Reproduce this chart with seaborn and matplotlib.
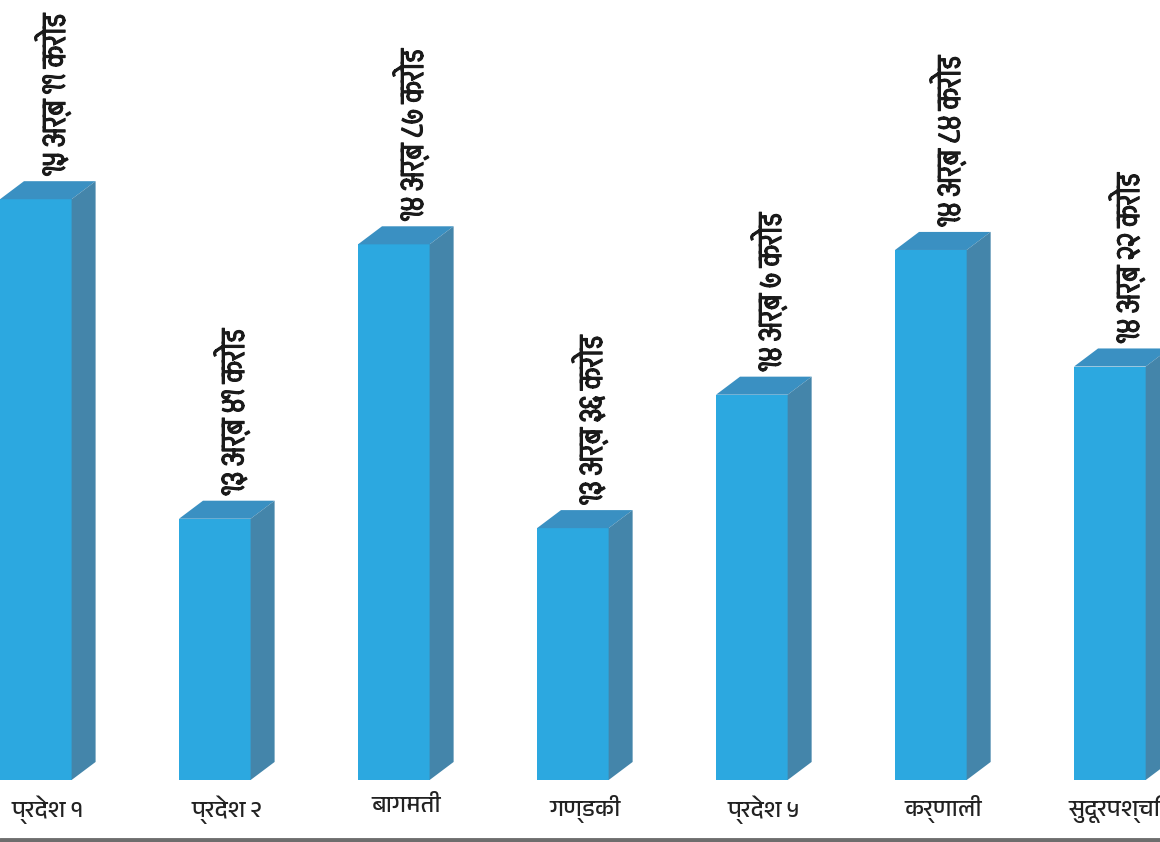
import numpy as np
import matplotlib
matplotlib.use("Agg")
import matplotlib.pyplot as plt
import matplotlib.patheffects as pe
from matplotlib import font_manager
from matplotlib.ft2font import FT2Font
from matplotlib.patches import Polygon
import seaborn as sns

# data (in arba)
provinces = ["प्रदेश १", "प्रदेश २", "बागमती", "गण्डकी", "प्रदेश ५", "कर्णाली", "सुदूरपश्चिम"]
budget = [15.11, 13.41, 14.87, 13.36, 14.07, 14.84, 14.22]
value_labels = ["१५ अर्ब ११ करोड", "१३ अर्ब ४१ करोड", "१४ अर्ब ८७ करोड", "१३ अर्ब ३६ करोड",
                "१४ अर्ब ७ करोड", "१४ अर्ब ८४ करोड", "१४ अर्ब २२ करोड"]

# find installed fonts that have devanagari glyphs
deva = []
for f in font_manager.fontManager.ttflist:
    try:
        if 0x0915 in FT2Font(f.fname).get_charmap():
            deva.append(f.name)
    except Exception:
        pass
deva = sorted(set(deva))
deva_named = sorted(deva, key=lambda n: ("Devanagari" not in n, n))
label_font = deva[:1] + ['DejaVu Sans']        # condensed one, for the value labels
tick_font = deva_named[:1] + ['DejaVu Sans']

sns.set_style("white")
plt.rcParams['font.family'] = tick_font

front = "#2ca8e0"
top_c = "#3a90c2"
side_c = "#4485aa"

fig = plt.figure(figsize=(11.6, 8.42), dpi=100)
ax = fig.add_axes([0, 62 / 842, 1, 780 / 842])

sns.barplot(x=provinces, y=budget, color=front, width=0.4, saturation=1,
            linewidth=0, edgecolor=front, ax=ax, zorder=3)

ax.set_xlim(-0.2, 6.28)
ax.set_ylim(12.02, 16.17)
ybot = ax.get_ylim()[0]
dx, dy = 0.134, 0.096

for bar, lab in zip(ax.patches[:len(budget)], value_labels):
    x0 = bar.get_x()
    x1 = x0 + bar.get_width()
    h = bar.get_height()
    ax.add_patch(Polygon([(x0, h), (x0 + dx, h + dy), (x1 + dx, h + dy), (x1, h)],
                         closed=True, color=top_c, lw=0, zorder=3))
    ax.add_patch(Polygon([(x1, h), (x1 + dx, h + dy), (x1 + dx, ybot + dy), (x1, ybot)],
                         closed=True, color=side_c, lw=0, zorder=3))
    ax.text(x0 + bar.get_width() / 2 + 0.1, h + dy + 0.03, lab, rotation=90,
            ha="center", va="bottom", fontsize=25, fontweight="bold", color="#1a1a1a",
            family=label_font,
            path_effects=[pe.withStroke(linewidth=0.8, foreground="#1a1a1a")])

ax.set_xticks(np.arange(len(provinces)) + dx / 2, provinces)
ax.set_xlabel("")
ax.set_ylabel("")
ax.set_yticks([])
ax.tick_params(axis="x", length=0, pad=11, labelsize=17, labelcolor="#222222")
for s in ax.spines.values():
    s.set_visible(False)

fig.add_artist(plt.Line2D([0, 1], [2 / 842, 2 / 842], transform=fig.transFigure,
                          color="#6d6d6d", lw=3.5))

fig.savefig("out.png", dpi=100)
